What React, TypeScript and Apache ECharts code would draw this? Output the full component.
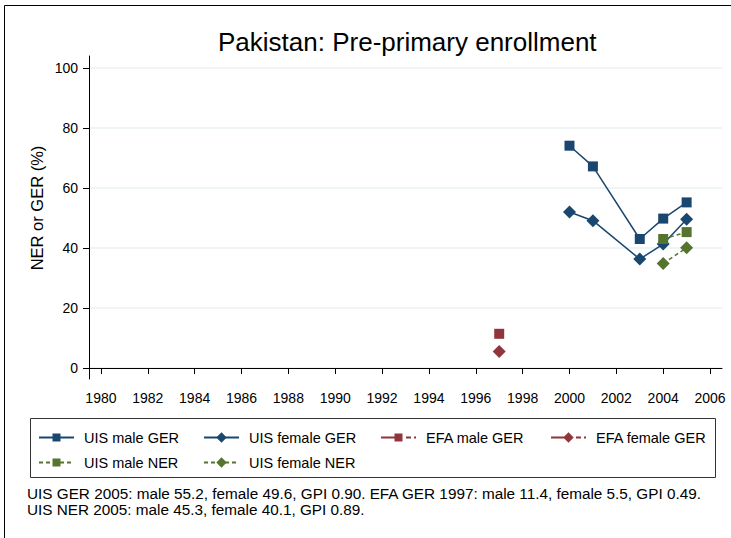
import React, { useEffect, useRef } from 'react';
import * as echarts from 'echarts';

const titleText = 'Pakistan: Pre-primary enrollment';
const yAxisTitle = 'NER or GER (%)';
const xTicks = [1980, 1982, 1984, 1986, 1988, 1990, 1992, 1994, 1996, 1998, 2000, 2002, 2004, 2006];
const yTicks = [0, 20, 40, 60, 80, 100];

const uisYears = [2000, 2001, 2003, 2004, 2005];
const uisMaleGER = [74.1, 67.2, 43.0, 49.8, 55.2];
const uisFemaleGER = [52.0, 49.1, 36.3, 41.3, 49.6];
const efaYears = [1997];
const efaMaleGER = [11.4];
const efaFemaleGER = [5.5];
const nerYears = [2004, 2005];
const uisMaleNER = [43.0, 45.3];
const uisFemaleNER = [34.8, 40.1];

const seriesNames = ['UIS male GER', 'UIS female GER', 'EFA male GER', 'EFA female GER', 'UIS male NER', 'UIS female NER'];
const footnoteLines = [
  'UIS GER 2005: male 55.2, female 49.6, GPI 0.90. EFA GER 1997: male 11.4, female 5.5, GPI 0.49.',
  'UIS NER 2005: male 45.3, female 40.1, GPI 0.89.',
];

const NAVY = '#1a476f';
const MAROON = '#90353b';
const GREEN = '#55752f';
const FONT = '"Liberation Sans", Arial, Helvetica, sans-serif';

const pairs = (xs: number[], ys: number[]) => xs.map((x, i) => [x, ys[i]]);

export default function App() {
  const ref = useRef<HTMLDivElement>(null);
  useEffect(() => {
    if (!ref.current) return;
    const chart = echarts.init(ref.current, undefined, { renderer: 'svg' });

    const efaDash = [15, 10, 5, 3, 2, 200];
    const nerDash = [4, 3];
    const specs = [
      { name: seriesNames[0], data: pairs(uisYears, uisMaleGER), color: NAVY, symbol: 'rect', size: 10, dash: 'solid' as any },
      { name: seriesNames[1], data: pairs(uisYears, uisFemaleGER), color: NAVY, symbol: 'diamond', size: 13, dash: 'solid' as any },
      { name: seriesNames[2], data: pairs(efaYears, efaMaleGER), color: MAROON, symbol: 'rect', size: 10, dash: efaDash as any },
      { name: seriesNames[3], data: pairs(efaYears, efaFemaleGER), color: MAROON, symbol: 'diamond', size: 13, dash: efaDash as any },
      { name: seriesNames[4], data: pairs(nerYears, uisMaleNER), color: GREEN, symbol: 'rect', size: 10, dash: nerDash as any },
      { name: seriesNames[5], data: pairs(nerYears, uisFemaleNER), color: GREEN, symbol: 'diamond', size: 13, dash: nerDash as any },
    ];

    const colX = [38, 203, 380, 550];
    const rowY = [437, 462];
    const legendPos = [
      [colX[0], rowY[0]], [colX[1], rowY[0]], [colX[2], rowY[0]], [colX[3], rowY[0]],
      [colX[0], rowY[1]], [colX[1], rowY[1]],
    ];

    const legends = specs.map((s, i) => ({
      data: [s.name],
      left: legendPos[i][0],
      top: legendPos[i][1] - 7,
      orient: 'horizontal',
      padding: 0,
      itemWidth: 35,
      itemHeight: s.symbol === 'rect' ? 10 : 13,
      selectedMode: false,
      textStyle: { fontSize: 14.5, lineHeight: 14, color: '#000', fontFamily: FONT, padding: [0, 0, 0, 5] },
    }));

    chart.setOption({
      animation: false,
      backgroundColor: '#fff',
      textStyle: { fontFamily: FONT },
      title: {
        text: titleText,
        left: 218,
        top: 29,
        padding: 0,
        textStyle: { fontSize: 26, fontWeight: 'normal', color: '#000', fontFamily: FONT },
      },
      legend: legends,
      grid: { left: 89, right: 9, top: 56, bottom: 159, containLabel: false },
      xAxis: {
        type: 'value',
        min: 1979.49,
        max: 2006.51,
        axisLine: { show: true, lineStyle: { color: '#000', width: 1 } },
        axisTick: { show: true, customValues: xTicks, length: 6, lineStyle: { color: '#000', width: 1 } },
        axisLabel: {
          customValues: xTicks,
          fontSize: 14,
          color: '#000',
          margin: 12,
          fontFamily: FONT,
          formatter: (v: number) => String(Math.round(v)),
        },
        splitLine: { show: false },
      },
      yAxis: {
        type: 'value',
        min: -3.67,
        max: 104,
        axisLine: { show: true, lineStyle: { color: '#000', width: 1 } },
        axisTick: { show: true, customValues: yTicks, length: 6, lineStyle: { color: '#000', width: 1 } },
        axisLabel: {
          customValues: yTicks,
          fontSize: 14,
          color: '#000',
          margin: 11,
          fontFamily: FONT,
          formatter: (v: number) => String(Math.round(v)),
        },
        splitLine: { show: true, lineStyle: { color: '#eaf2f3', width: 1.5 } },
      },
      graphic: [
        {
          type: 'rect',
          shape: { x: 4.5, y: 5.5, width: 800, height: 600 },
          style: { fill: 'none', stroke: '#000', lineWidth: 1 },
          silent: true,
          z: -10,
        },
        {
          type: 'rect',
          shape: { x: 30.5, y: 418.5, width: 685, height: 59 },
          style: { fill: 'none', stroke: '#333', lineWidth: 1 },
          silent: true,
        },
        {
          type: 'text',
          x: 37,
          y: 208,
          rotation: Math.PI / 2,
          style: { text: yAxisTitle, font: `16.5px ${FONT}`, fill: '#000', align: 'center', verticalAlign: 'middle' },
          silent: true,
        },
        {
          type: 'text',
          x: 27,
          y: 485,
          style: { text: footnoteLines.join('\n'), font: `15.3px ${FONT}`, lineHeight: 16, fill: '#000' },
          silent: true,
        },
      ],
      series: specs.map((s) => ({
        name: s.name,
        type: 'line',
        data: s.data,
        symbol: s.symbol,
        symbolSize: s.size,
        showSymbol: true,
        itemStyle: { color: s.color },
        lineStyle: { color: s.color, width: 1.5, type: s.dash },
        emphasis: { disabled: true },
      })),
    });
    return () => chart.dispose();
  }, []);

  return <div ref={ref} style={{ position: 'fixed', left: 0, top: 0, width: 731, height: 538 }} />;
}
